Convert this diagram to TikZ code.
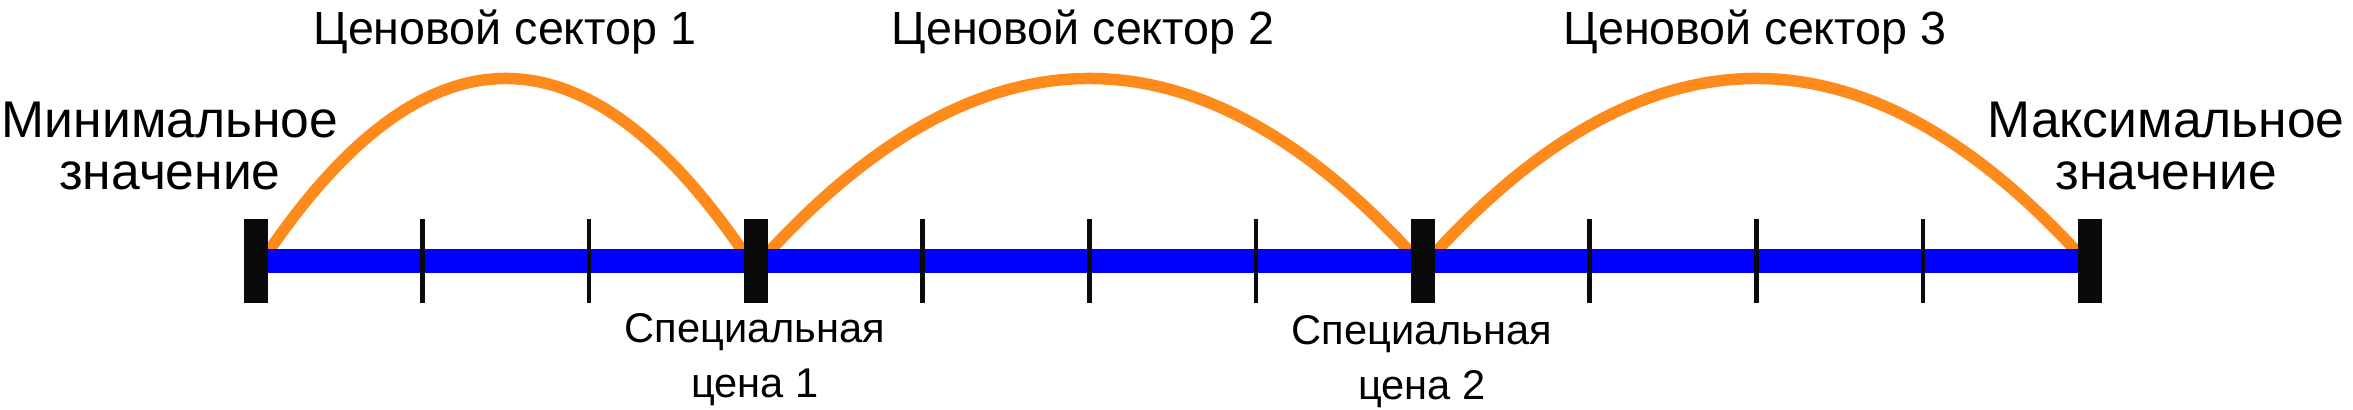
\documentclass[tikz,border=0pt]{standalone}
\usepackage{fontspec}
\setmainfont{Liberation Sans}
\usetikzlibrary{calc}
\definecolor{arcorange}{RGB}{255,138,28}
\definecolor{axisblue}{RGB}{0,0,255}
\definecolor{barblack}{RGB}{10,10,10}
\newlength{\pxu}
\setlength{\pxu}{0.5pt}
\tikzset{
  bigbar/.style={fill=barblack, draw=none, minimum width=24\pxu, minimum height=84\pxu, inner sep=0pt, outer sep=0pt},
  minortick/.style={fill=barblack, draw=none, minimum width=4.5\pxu, minimum height=84\pxu, inner sep=0pt, outer sep=0pt},
  axisline/.style={draw=axisblue, line width=24\pxu},
  sectorarc/.style={draw=arcorange, line width=11.5\pxu},
  sectorlabel/.style={font={\fontsize{23.3}{26}\selectfont}, inner sep=0pt, anchor=base},
  endlabel/.style={font={\fontsize{25.8}{26}\selectfont}, align=center, inner sep=0pt, anchor=base},
  speclabel/.style={font={\fontsize{20.8}{27.5}\selectfont}, align=center, inner sep=0pt, anchor=base}
}
\begin{document}
\begin{tikzpicture}[x=0.5pt,y=-0.5pt]
\path[use as bounding box] (0,0) rectangle (2353,410);
% positions of the big bars
\coordinate (p0) at (255.5,261);
\coordinate (p3) at (756,261);
\coordinate (p7) at (1423,261);
\coordinate (p11) at (2090,261);
% invisible placeholders to get the bar edges
\node[bigbar, fill=none] (g0) at (p0) {};
\node[bigbar, fill=none] (g1) at (p3) {};
\node[bigbar, fill=none] (g2) at (p7) {};
\node[bigbar, fill=none] (g3) at (p11) {};
\coordinate (s1) at ($(g0.east)+(0,-8)$);
\coordinate (e1) at ($(g1.west)+(0,-8)$);
\coordinate (s2) at ($(g1.east)+(0,-8)$);
\coordinate (e2) at ($(g2.west)+(0,-8)$);
\coordinate (s3) at ($(g2.east)+(0,-8)$);
\coordinate (e3) at ($(g3.west)+(0,-8)$);
% arcs
\draw[sectorarc] (s1) .. controls ($(s1)!0.3333!(e1)+(0,-232.7)$) and ($(s1)!0.6667!(e1)+(0,-232.7)$) .. (e1);
\draw[sectorarc] (s2) .. controls ($(s2)!0.3333!(e2)+(0,-232.7)$) and ($(s2)!0.6667!(e2)+(0,-232.7)$) .. (e2);
\draw[sectorarc] (s3) .. controls ($(s3)!0.3333!(e3)+(0,-232.7)$) and ($(s3)!0.6667!(e3)+(0,-232.7)$) .. (e3);
% axis
\draw[axisline] (g0.center) -- (g3.center);
% bars
\node[bigbar] (b0) at (p0) {};
\node[bigbar] (b1) at (p3) {};
\node[bigbar] (b2) at (p7) {};
\node[bigbar] (b3) at (p11) {};
\foreach \k in {1,2,4,5,6,8,9,10}{
  \node[minortick] (t\k) at ({255.5+\k*166.77},261) {};
}
% labels
\node[sectorlabel] (l1) at (505,45) {Ценовой сектор 1};
\node[sectorlabel] (l2) at (1083,45) {Ценовой сектор 2};
\node[sectorlabel] (l3) at (1755,45) {Ценовой сектор 3};
\node[endlabel] (lmin) at (170,190) {Минимальное\\значение};
\node[endlabel] (lmax) at (2166,190) {Максимальное\\значение};
\node[speclabel] (ls1) at (755,398) {Специальная\\цена 1};
\node[speclabel] (ls2) at (1422,400) {Специальная\\цена 2};
\end{tikzpicture}
\end{document}
